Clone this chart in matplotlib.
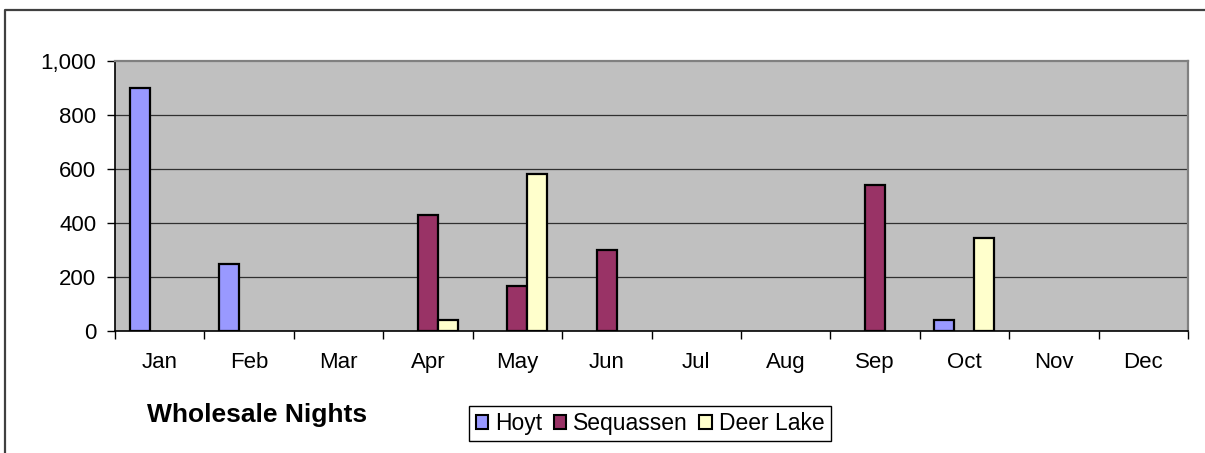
import numpy as np
import matplotlib
matplotlib.use("Agg")
import matplotlib.pyplot as plt
from matplotlib.lines import Line2D

plt.rcParams['font.family'] = ['Liberation Sans', 'DejaVu Sans']

months = ["Jan", "Feb", "Mar", "Apr", "May", "Jun", "Jul", "Aug", "Sep", "Oct", "Nov", "Dec"]
series_names = ["Hoyt", "Sequassen", "Deer Lake"]
hoyt = [900, 250, 0, 0, 0, 0, 0, 0, 0, 40, 0, 0]
sequassen = [0, 0, 0, 430, 165, 300, 0, 0, 540, 0, 0, 0]
deer_lake = [0, 0, 0, 40, 580, 0, 0, 0, 0, 345, 0, 0]
y_ticks = [0, 200, 400, 600, 800, 1000]
y_tick_labels = ["0", "200", "400", "600", "800", "1,000"]
title = "Wholesale Nights"

colors = ["#9999FF", "#993366", "#FFFFCC"]

W, H = 1205, 453
fig = plt.figure(figsize=(W / 100, H / 100), dpi=100)
ax = fig.add_axes([115 / W, 1 - 331 / H, (1188 - 115) / W, (331 - 61) / H])
ax.set_facecolor("#C0C0C0")

x = np.arange(len(months))
bw = 0.2237
data = [hoyt, sequassen, deer_lake]
handles = []
for k, (vals, name, c) in enumerate(zip(data, series_names, colors)):
    v = np.array(vals, dtype=float)
    v[v == 0] = np.nan
    b = ax.bar(x + (k - 1) * bw, v, width=bw, color=c, edgecolor="black",
               linewidth=1.6, label=name, zorder=3)
    handles.append(b)

ax.set_xlim(-0.5, len(months) - 0.5)
ax.set_ylim(0, 1000)
ax.set_yticks(y_ticks)
ax.set_yticklabels(y_tick_labels)
ax.set_xticks(x)
ax.set_xticklabels(months)
ax.set_xticks(np.arange(-0.5, len(months), 1.0), minor=True)
ax.tick_params(axis="x", which="major", length=0, pad=15, labelsize=16)
ax.tick_params(axis="x", which="minor", length=5.5, width=1.0, direction="out", color="black")
ax.tick_params(axis="y", which="major", length=5.5, width=1.0, direction="out", pad=8, labelsize=16)

for yv in y_ticks[1:-1]:
    ax.axhline(yv, color="#303030", linewidth=0.9, zorder=1)

for s in ["top", "right"]:
    ax.spines[s].set_color("#808080")
    ax.spines[s].set_linewidth(1.6)
for s in ["left", "bottom"]:
    ax.spines[s].set_color("black")
    ax.spines[s].set_linewidth(1.2)

fig.text(257 / W, 1 - 415 / H, title, fontsize=19, fontweight="bold",
         ha="center", va="center")

leg = fig.legend(handles=handles, labels=series_names, loc="center",
                 bbox_to_anchor=(650 / W, 1 - 423.5 / H), ncol=3, fontsize=16.5,
                 frameon=True, fancybox=False, framealpha=1, edgecolor="black",
                 handlelength=0.55, handleheight=0.6, handletextpad=0.3,
                 columnspacing=0.5, borderpad=0.28, borderaxespad=0)
leg.get_frame().set_linewidth(1.0)
for p in leg.get_patches():
    p.set_linewidth(1.5)

# outer chart frame (only top and left visible)
fig.add_artist(Line2D([5 / W, 5 / W, 1.0], [0.0, 1 - 10 / H, 1 - 10 / H],
                      transform=fig.transFigure, color="#404040", linewidth=1.6))

fig.savefig("out.png", dpi=100, facecolor="white")
